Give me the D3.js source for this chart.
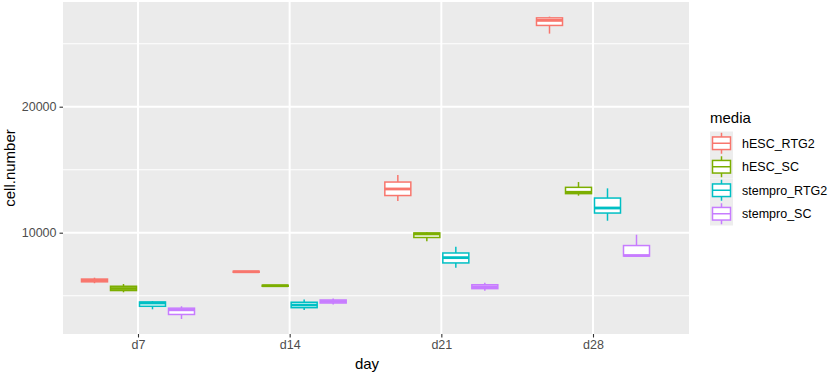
<!DOCTYPE html>
<html><head><meta charset="utf-8">
<script src="https://cdn.jsdelivr.net/npm/d3@7"></script>
<style>body{margin:0;background:#fff}svg{display:block;font-family:"Liberation Sans",Arial,Helvetica,sans-serif}</style>
</head><body><svg id="c" width="829" height="374"></svg>
<script>
const days = ["d7","d14","d21","d28"];
const media = ["hESC_RTG2","hESC_SC","stempro_RTG2","stempro_SC"];
const colors = ["#F8766D","#7CAE00","#00BFC4","#C77CFF"];
const yTicks = [10000,20000];
const yMinor = [5000,15000,25000];
// [lower whisker, Q1, median, Q3, upper whisker] per day, per media
const hESC_RTG2    = [[5990,6100,6210,6320,6430],[6840,6860,6900,6940,6960],[12520,12950,13470,14020,14580],[25800,26450,26850,27050,27150]];
const hESC_SC      = [[5270,5410,5570,5750,5930],[5720,5750,5790,5830,5850],[9320,9620,9900,9980,10030],[12940,13100,13210,13600,14020]];
const stempro_RTG2 = [[3920,4160,4420,4500,4580],[3870,4050,4260,4480,4700],[7220,7600,8020,8390,8890],[10950,11560,11960,12750,13520]];
const stempro_SC   = [[3150,3510,3880,4010,4160],[4300,4420,4540,4660,4780],[5400,5560,5710,5870,6030],[8120,8150,8190,8980,9840]];
const seriesData = [hESC_RTG2, hESC_SC, stempro_RTG2, stempro_SC];

const svg = d3.select("#c");
const P = {l:63, r:689, t:2, b:334};
const x = d3.scalePoint().domain(days).range([138,593]);
const dodge = d3.scaleBand().domain(media).range([-58,58]).padding(0);
const y = d3.scaleLinear().domain([1960,28310]).range([P.b,P.t]);
const col = d3.scaleOrdinal().domain(media).range(colors);

svg.append("rect").attr("x",P.l).attr("y",P.t).attr("width",P.r-P.l).attr("height",P.b-P.t).attr("fill","#EBEBEB");
svg.selectAll(".gmin").data(yMinor).join("line").attr("x1",P.l).attr("x2",P.r)
  .attr("y1",d=>y(d)).attr("y2",d=>y(d)).attr("stroke","#fff").attr("stroke-width",1.1);
svg.selectAll(".gmaj").data(yTicks).join("line").attr("x1",P.l).attr("x2",P.r)
  .attr("y1",d=>y(d)).attr("y2",d=>y(d)).attr("stroke","#fff").attr("stroke-width",2);
svg.selectAll(".gx").data(days).join("line").attr("y1",P.t).attr("y2",P.b)
  .attr("x1",d=>x(d)).attr("x2",d=>x(d)).attr("stroke","#fff").attr("stroke-width",2);

// boxes
const bw = 26, sw = 1.5;
media.forEach((m,i)=>{
  const g = svg.append("g");
  days.forEach((d,j)=>{
    const [lo,q1,med,q3,hi] = seriesData[i][j];
    const cx = x(d) + dodge(m) + dodge.bandwidth()/2;
    const c = col(m);
    g.append("line").attr("x1",cx).attr("x2",cx).attr("y1",y(hi)).attr("y2",y(q3)).attr("stroke",c).attr("stroke-width",sw);
    g.append("line").attr("x1",cx).attr("x2",cx).attr("y1",y(q1)).attr("y2",y(lo)).attr("stroke",c).attr("stroke-width",sw);
    g.append("rect").attr("x",cx-bw/2).attr("width",bw).attr("y",y(q3)).attr("height",y(q1)-y(q3))
      .attr("fill","#fff").attr("stroke",c).attr("stroke-width",sw);
    g.append("line").attr("x1",cx-bw/2).attr("x2",cx+bw/2).attr("y1",y(med)).attr("y2",y(med)).attr("stroke",c).attr("stroke-width",2.8);
  });
});

// axes
const ya = svg.append("g").attr("transform",`translate(${P.l},0)`)
  .call(d3.axisLeft(y).tickValues(yTicks).tickSize(3.5).tickPadding(3).tickFormat(d3.format("d")));
ya.select(".domain").remove();
ya.selectAll("line").attr("stroke","#333").attr("stroke-width",1.1);
ya.selectAll("text").attr("fill","#4D4D4D").style("font-size","12.5px");
const xa = svg.append("g").attr("transform",`translate(0,${P.b})`)
  .call(d3.axisBottom(x).tickSize(3.5).tickPadding(3));
xa.select(".domain").remove();
xa.selectAll("line").attr("stroke","#333").attr("stroke-width",1.1);
xa.selectAll("text").attr("fill","#4D4D4D").style("font-size","12.5px");

svg.append("text").attr("x",367).attr("y",369).attr("text-anchor","middle").style("font-size","15px").text("day");
svg.append("text").attr("transform","translate(15,168) rotate(-90)").attr("text-anchor","middle").style("font-size","15px").text("cell.number");

// legend
const lg = svg.append("g");
lg.append("text").attr("x",710).attr("y",123).style("font-size","15px").text("media");
const ks = 23.5, k0 = 131.5, kx = 710, kw = 23;
media.forEach((m,i)=>{
  const cy = k0 + i*ks + ks/2, c = col(m);
  lg.append("rect").attr("x",kx).attr("y",k0+i*ks).attr("width",kw).attr("height",ks).attr("fill","#EDEDED");
  lg.append("line").attr("x1",kx+kw/2).attr("x2",kx+kw/2).attr("y1",cy-10.5).attr("y2",cy+10.5).attr("stroke",c).attr("stroke-width",sw);
  lg.append("rect").attr("x",kx+2.5).attr("y",cy-6.3).attr("width",kw-5).attr("height",12.6).attr("fill","#fff").attr("stroke",c).attr("stroke-width",sw);
  lg.append("line").attr("x1",kx+2.5).attr("x2",kx+kw-2.5).attr("y1",cy).attr("y2",cy).attr("stroke",c).attr("stroke-width",sw);
  lg.append("text").attr("x",742).attr("y",cy+4.5).style("font-size","12.5px").text(m);
});
</script></body></html>
